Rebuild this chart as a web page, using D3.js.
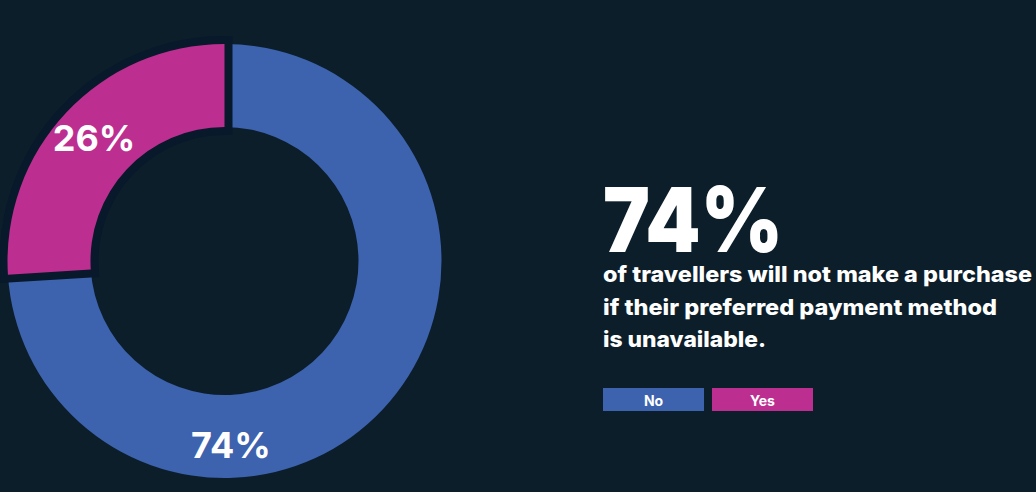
<!DOCTYPE html>
<html><head><meta charset="utf-8">
<script src="https://cdn.jsdelivr.net/npm/d3@7"></script>
<style>html,body{margin:0;padding:0;background:#0c1e2a;} svg{display:block}</style>
</head><body>
<svg id="chart" width="1036" height="492"></svg>
<script>
// ---- data ----
const categories = ["No", "Yes"];
const values = [74, 26];
const colors = ["#3d62ae", "#bc2e8f"];
const labels = ["74%", "26%"];
const headline = "74%";
const descriptionLines = [
  "of travellers will not make a purchase",
  "if their preferred payment method",
  "is unavailable."
];

// ---- layout ----
const W = 1036, H = 492;
const bg = "#0c1e2a";
const svg = d3.select("#chart");
svg.append("rect").attr("width", W).attr("height", H).attr("fill", bg);

const cx = 224.5, cy = 261, rIn = 134, rOut = 217;
const data = categories.map((c, i) => ({category: c, value: values[i], label: labels[i]}));
const color = d3.scaleOrdinal().domain(categories).range(colors);
const pie = d3.pie().sort(null).value(d => d.value);
const arcs = pie(data);
const arc = d3.arc().innerRadius(rIn).outerRadius(rOut);

const g = svg.append("g").attr("transform", `translate(${cx},${cy})`);
g.selectAll("path.slice").data(arcs).join("path")
  .attr("class", "slice")
  .attr("d", arc)
  .attr("fill", d => color(d.data.category))
  .attr("stroke", d => d.index === 1 ? "#07192b" : "none")
  .attr("stroke-width", d => d.index === 1 ? 16 : 0)
  .attr("stroke-linejoin", "miter")
  .style("paint-order", "stroke");

g.selectAll("text.lbl").data(arcs).join("text")
  .attr("class", "lbl")
  .each(function(d) {
    const span = d.endAngle - d.startAngle;
    const big = span > Math.PI;
    const a = big ? Math.PI - 0.035 : (d.startAngle + d.endAngle) / 2;
    const r = big ? 184 : 179;
    d3.select(this)
      .attr("x", r * Math.sin(a))
      .attr("y", -r * Math.cos(a));
  })
  .attr("text-anchor", "middle")
  .attr("dy", "0.36em")
  .attr("fill", "#ffffff")
  .attr("font-family", "Inter, 'Open Sans', sans-serif")
  .attr("font-weight", 700)
  .attr("font-size", 36)
  .text(d => d.data.label);

// ---- right side text ----
const tx = 603;
svg.append("text")
  .attr("x", tx).attr("y", 252)
  .attr("fill", "#ffffff")
  .attr("font-family", "Inter, sans-serif")
  .attr("font-weight", 900)
  .attr("font-size", 90)
  .attr("textLength", 180)
  .attr("lengthAdjust", "spacingAndGlyphs")
  .text(headline);

const lineWidths = [429, 394, 163];
const lineY = d3.scalePoint().domain(d3.range(descriptionLines.length)).range([282, 347]);
svg.selectAll("text.desc").data(descriptionLines).join("text")
  .attr("class", "desc")
  .attr("x", tx)
  .attr("y", (d, i) => lineY(i))
  .attr("fill", "#ffffff")
  .attr("font-family", "Inter, sans-serif")
  .attr("font-weight", 800)
  .attr("font-size", 22)
  .attr("textLength", (d, i) => lineWidths[i])
  .attr("lengthAdjust", "spacingAndGlyphs")
  .text(d => d);

// ---- legend ----
const legendX = d3.scaleBand().domain(categories).range([603, 813]).paddingInner(0.073);
const lg = svg.append("g").attr("transform", "translate(0,388)");
lg.selectAll("rect").data(categories).join("rect")
  .attr("x", d => legendX(d))
  .attr("y", 0)
  .attr("width", legendX.bandwidth())
  .attr("height", 23)
  .attr("fill", d => color(d));
lg.selectAll("text").data(categories).join("text")
  .attr("x", d => legendX(d) + legendX.bandwidth() / 2)
  .attr("y", 17.5)
  .attr("text-anchor", "middle")
  .attr("fill", "#ffffff")
  .attr("font-family", "Inter, sans-serif")
  .attr("font-weight", 700)
  .attr("font-size", 14)
  .text(d => d);
</script>
</body></html>
